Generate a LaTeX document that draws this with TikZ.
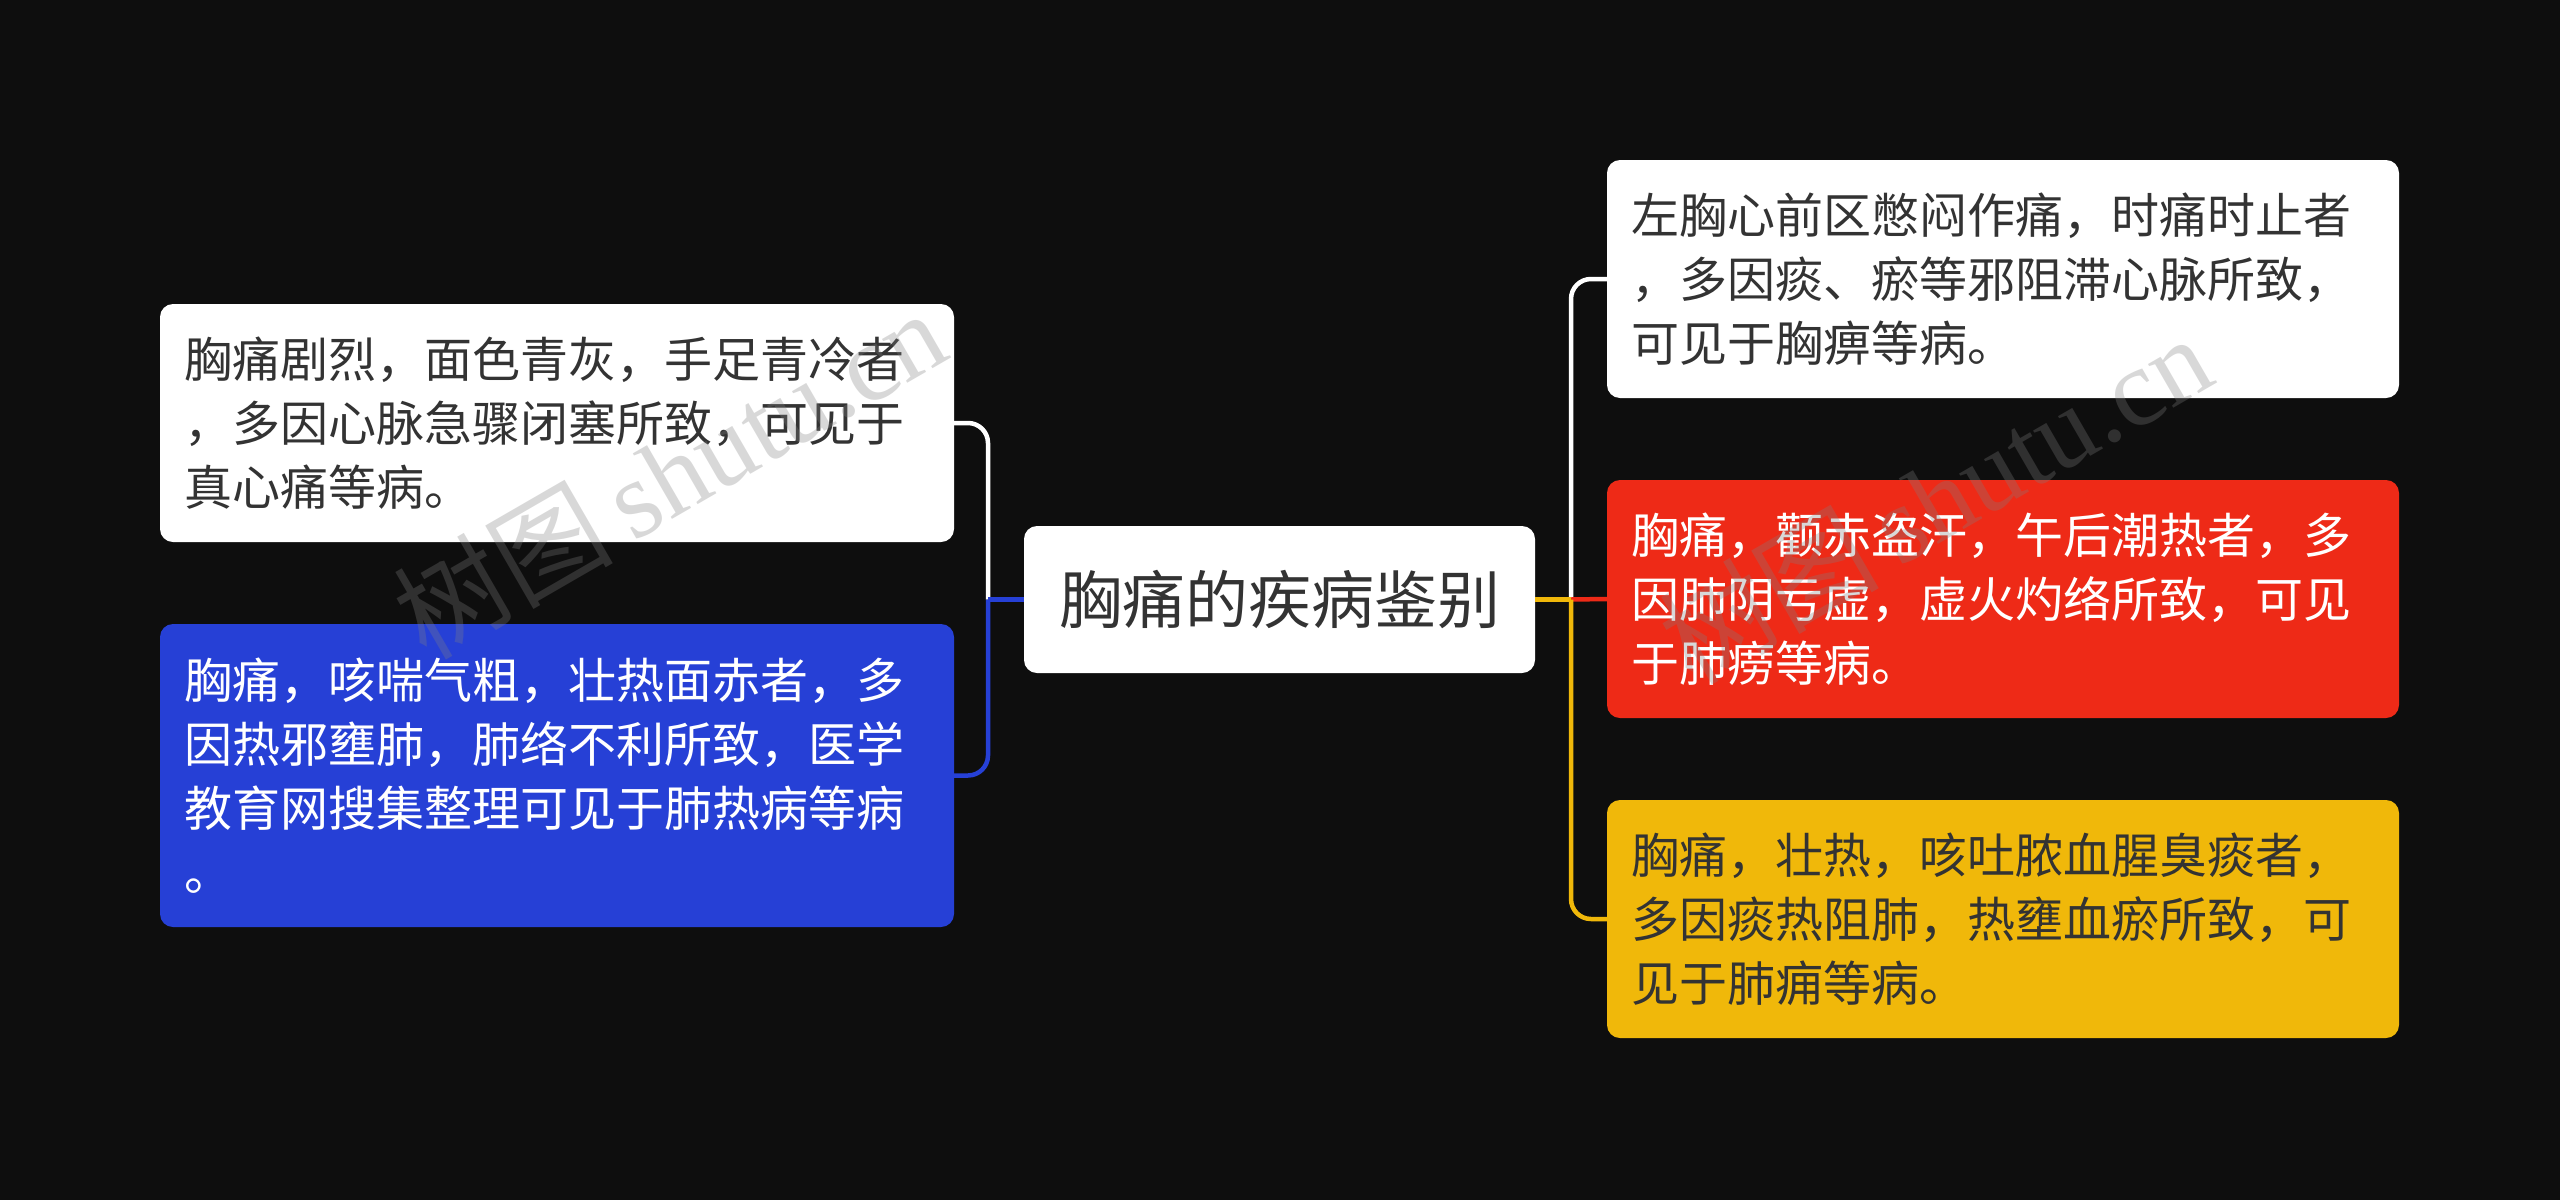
\documentclass[tikz,border=0pt]{standalone}
\usepackage{fontspec}
\setmainfont{Noto Sans CJK SC}
\newfontfamily\wmfont{Liberation Serif}
\definecolor{bg}{HTML}{0E0E0E}
\definecolor{txt}{HTML}{333333}
\definecolor{cblue}{HTML}{2640D6}
\definecolor{cred}{HTML}{EE2A17}
\definecolor{cyellow}{HTML}{F0B80A}
\begin{document}
\begin{tikzpicture}[x=1pt,y=-1pt,
  leaf/.style={rounded corners=13pt, inner xsep=24pt, inner ysep=0pt,
    text width=746pt, minimum height=238pt, align=left,
    font=\fontsize{48}{64}\selectfont},
  rootbox/.style={rounded corners=13pt, fill=white, text=txt,
    minimum width=511pt, minimum height=147pt, inner sep=0pt,
    font=\fontsize{63}{70}\selectfont},
  link/.style={line width=4.5pt, rounded corners=20pt},
  wm/.style={text=gray, opacity=0.3, rotate=30, inner sep=0pt,
    font=\fontsize{110}{110}\selectfont}
]
\fill[bg] (0,0) rectangle (2560,1200);
\useasboundingbox (0,0) rectangle (2560,1200);

\node[rootbox] (C) at (1279.5,599.5) {胸痛的疾病鉴别};

\node[leaf, fill=white, text=txt] (LW) at (557,423)
  {胸痛剧烈，面色青灰，手足青冷者\\，多因心脉急骤闭塞所致，可见于\\真心痛等病。};
\node[leaf, fill=cblue, text=white, minimum height=303pt] (LB) at (557,775.5)
  {胸痛，咳喘气粗，壮热面赤者，多\\因热邪壅肺，肺络不利所致，医学\\教育网搜集整理可见于肺热病等病\\。};

\node[leaf, fill=white, text=txt, text width=744pt] (RW) at (2003,279)
  {左胸心前区憋闷作痛，时痛时止者\\，多因痰、瘀等邪阻滞心脉所致，\\可见于胸痹等病。};
\node[leaf, fill=cred, text=white, text width=744pt] (RR) at (2003,599)
  {胸痛，颧赤盗汗，午后潮热者，多\\因肺阴亏虚，虚火灼络所致，可见\\于肺痨等病。};
\node[leaf, fill=cyellow, text=txt, text width=744pt] (RY) at (2003,919)
  {胸痛，壮热，咳吐脓血腥臭痰者，\\多因痰热阻肺，热壅血瘀所致，可\\见于肺痈等病。};

\coordinate (jl) at (988,599.5);
\coordinate (jr) at (1571,599.5);

% left connectors
\draw[link, white] (jl) |- (LW.east);
\draw[link, cblue] (jl) |- (LB.east);
\draw[link, cblue] (C.west) -- (jl);

% right connectors
\draw[link, white] (jr) |- (RW.west);
\draw[link, cred] (jr) -- (RR.west);
\draw[link, cyellow] (jr) |- (RY.west);
\draw[link, cyellow] (C.east) -- (jr);

% watermarks
\node[wm] (wm1) at (669,473) {树图\,{\wmfont shutu.cn}};
\node[wm] (wm2) at (1935,498) {树图\,{\wmfont shutu.cn}};
\end{tikzpicture}
\end{document}
